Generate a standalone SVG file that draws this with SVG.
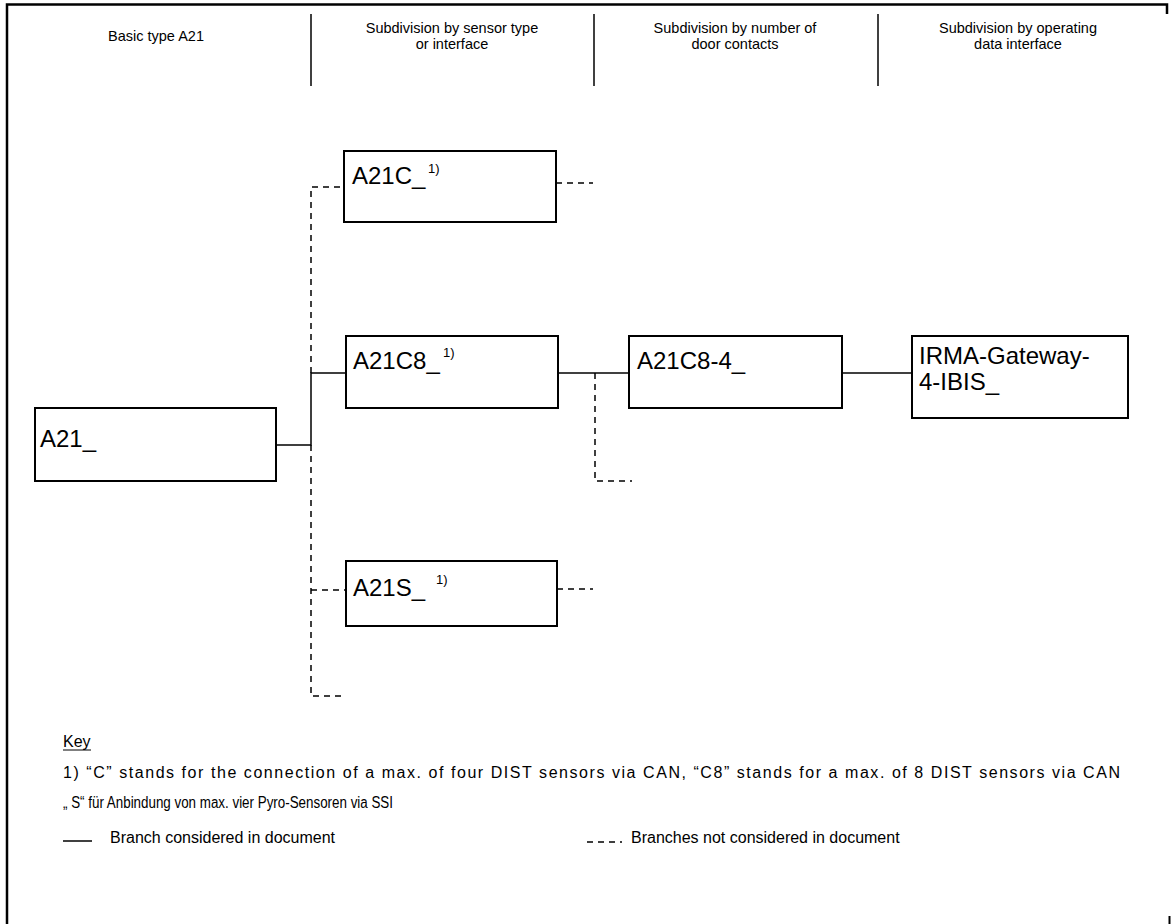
<svg xmlns="http://www.w3.org/2000/svg" width="1171" height="924" viewBox="0 0 1171 924">
<style>
.hdr{font-family:"Liberation Sans",Arial,sans-serif;font-size:14.5px;fill:#000;text-anchor:middle}
.box{fill:#fff;stroke:#000;stroke-width:2}
.lbl{font-family:"Liberation Sans",Arial,sans-serif;font-size:24px;fill:#000}
.sup{font-family:"Liberation Sans",Arial,sans-serif;font-size:13px;fill:#000}
.txt{font-family:"Liberation Sans",Arial,sans-serif;font-size:16px;fill:#000}
.solid{fill:none;stroke:#000;stroke-width:1.5}
.dash{fill:none;stroke:#000;stroke-width:1.5;stroke-dasharray:6,5}
.div{stroke:#000;stroke-width:1.5}
</style>
<rect width="1171" height="924" fill="#fff"/>
<path d="M7,924 V4.5 H1167 V14" fill="none" stroke="#000" stroke-width="2.5"/>
<path d="M1169.5,916 V924" fill="none" stroke="#000" stroke-width="2"/>
<g id="headers">
<text class="hdr" x="156" y="41">Basic type A21</text>
<line class="div" x1="311" y1="14" x2="311" y2="86"/>
<text class="hdr" x="452" y="33">Subdivision by sensor type</text>
<text class="hdr" x="452" y="49">or interface</text>
<line class="div" x1="594" y1="14" x2="594" y2="86"/>
<text class="hdr" x="735" y="33">Subdivision by number of</text>
<text class="hdr" x="735" y="49">door contacts</text>
<line class="div" x1="878" y1="14" x2="878" y2="86"/>
<text class="hdr" x="1018" y="33">Subdivision by operating</text>
<text class="hdr" x="1018" y="49">data interface</text>
</g>
<g id="connectors">
<path class="solid" d="M276,445 H311 V373 H346"/>
<path class="dash" d="M311,373 V187 H344"/>
<path class="dash" d="M311,445 V696 H346"/>
<path class="dash" d="M311,590 H346"/>
<path class="dash" d="M556,183 H593"/>
<path class="dash" d="M557,589 H593"/>
<path class="solid" d="M558,373 H629"/>
<path class="dash" d="M595,373 V481 H632"/>
<path class="solid" d="M842,373 H912"/>
</g>
<g id="node-A21">
<rect class="box" x="35" y="408" width="241" height="73"/>
<text class="lbl" x="40" y="447">A21_</text>
</g>
<g id="node-A21C">
<rect class="box" x="344" y="151" width="212" height="71"/>
<text class="lbl" x="352" y="184">A21C_</text>
<text class="sup" x="428" y="173">1)</text>
</g>
<g id="node-A21C8">
<rect class="box" x="346" y="336" width="212" height="72"/>
<text class="lbl" x="353" y="369">A21C8_</text>
<text class="sup" x="443" y="357">1)</text>
</g>
<g id="node-A21S">
<rect class="box" x="346" y="561" width="211" height="65"/>
<text class="lbl" x="353" y="596">A21S_</text>
<text class="sup" x="436" y="584">1)</text>
</g>
<g id="node-A21C8-4">
<rect class="box" x="629" y="336" width="213" height="72"/>
<text class="lbl" x="637" y="369">A21C8-4_</text>
</g>
<g id="node-IRMA">
<rect class="box" x="912" y="336" width="216" height="82"/>
<text class="lbl" x="919" y="364">IRMA-Gateway-</text>
<text class="lbl" x="919" y="390">4-IBIS_</text>
</g>
<g id="key">
<text class="txt" x="63" y="747">Key</text>
<line x1="63" y1="750" x2="91" y2="750" stroke="#000" stroke-width="1"/>
<text class="txt" x="63" y="778" textLength="1057" lengthAdjust="spacing">1) “C” stands for the connection of a max. of four DIST sensors via CAN, “C8” stands for a max. of 8 DIST sensors via CAN</text>
<text class="txt" x="63" y="808" font-size="15" textLength="330" lengthAdjust="spacingAndGlyphs">„ S“  für Anbindung von max. vier Pyro-Sensoren via SSI</text>
<line x1="63" y1="841" x2="92" y2="841" stroke="#000" stroke-width="1.5"/>
<text class="txt" x="110" y="843">Branch considered in document</text>
<path d="M587,842 H622" fill="none" stroke="#000" stroke-width="1.5" stroke-dasharray="6,5"/>
<text class="txt" x="631" y="843">Branches not considered in document</text>
</g>
</svg>
